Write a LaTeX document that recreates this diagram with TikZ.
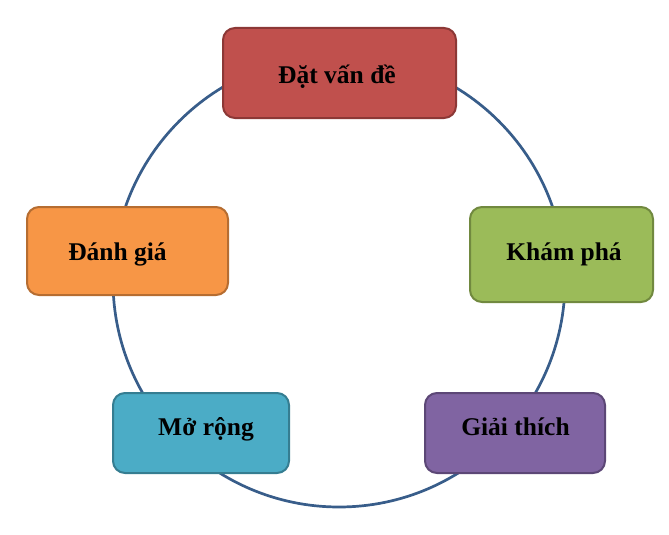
\documentclass[tikz,border=0pt]{standalone}
\usepackage{fontspec}
\setmainfont{Liberation Serif}
\definecolor{cred}{HTML}{C0504D}\definecolor{credb}{HTML}{8C3836}
\definecolor{cgreen}{HTML}{9BBB59}\definecolor{cgreenb}{HTML}{71893F}
\definecolor{cpurple}{HTML}{8064A2}\definecolor{cpurpleb}{HTML}{5C4776}
\definecolor{cteal}{HTML}{4BACC6}\definecolor{ctealb}{HTML}{357D91}
\definecolor{corange}{HTML}{F79646}\definecolor{corangeb}{HTML}{B66D31}
\definecolor{cline}{HTML}{385D8A}
\begin{document}
\begin{tikzpicture}[x=1pt,y=-1pt,
  box/.style={draw, rounded corners=12pt, line width=2pt, inner sep=0pt},
  lbl/.style={anchor=base, inner sep=0pt, font=\fontsize{25.5}{30}\selectfont\bfseries}]
\useasboundingbox (0,0) rectangle (669,535);
\draw[cline, line width=2.7pt] (339,281) circle (226);
\node[box, fill=cred, draw=credb, minimum width=233pt, minimum height=90pt] (b1) at (339.5,73) {};
\node[box, fill=cgreen, draw=cgreenb, minimum width=183pt, minimum height=95pt] (b2) at (561.5,254.5) {};
\node[box, fill=cpurple, draw=cpurpleb, minimum width=180pt, minimum height=80pt] (b3) at (515,433) {};
\node[box, fill=cteal, draw=ctealb, minimum width=176pt, minimum height=80pt] (b4) at (201,433) {};
\node[box, fill=corange, draw=corangeb, minimum width=201pt, minimum height=88pt] (b5) at (127.5,251) {};
\node[lbl] (t1) at (337,83) {Đặt vấn đề};
\node[lbl] (t2) at (564,260) {Khám phá};
\node[lbl] (t3) at (515.5,435) {Giải thích};
\node[lbl] (t4) at (206,435) {Mở rộng};
\node[lbl] (t5) at (117.5,260) {Đánh giá};
\end{tikzpicture}
\end{document}
